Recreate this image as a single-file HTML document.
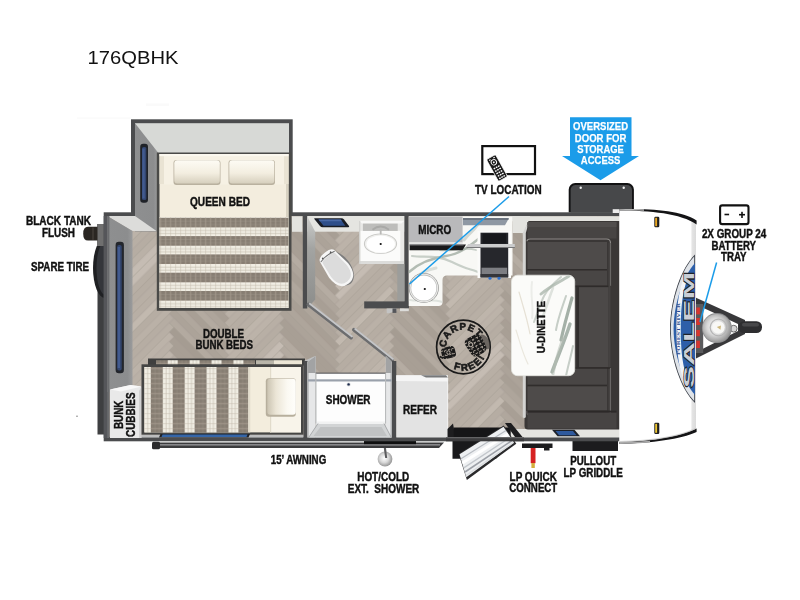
<!DOCTYPE html>
<html>
<head>
<meta charset="utf-8">
<title>176QBHK</title>
<style>
html,body{margin:0;padding:0;background:#fff;}
body{width:800px;height:600px;overflow:hidden;font-family:"Liberation Sans",sans-serif;}
svg{display:block;}
.lbl{font-family:"Liberation Sans",sans-serif;font-weight:bold;font-size:12px;fill:#111;text-anchor:middle;stroke:#111;stroke-width:.42px;}
</style>
</head>
<body>
<svg width="800" height="600" viewBox="0 0 800 600">
<defs>
  <!-- herringbone wood floor -->
  <pattern id="wood" width="156" height="156" patternUnits="userSpaceOnUse" patternTransform="translate(174,300) rotate(45)">
<rect width="156" height="156" fill="#b3aaa0"/>
<g stroke="#9d948a" stroke-width=".35" stroke-opacity=".55">
<rect x="0" y="6.5" width="6.5" height="78" fill="#bab1a7"/>
<rect x="0" y="0" width="78" height="6.5" fill="#b0a79d"/>
<rect x="78" y="-71.5" width="6.5" height="78" fill="#bcb3a9"/>
<rect x="-71.5" y="84.5" width="78" height="6.5" fill="#aca399"/>
<rect x="6.5" y="13" width="6.5" height="78" fill="#b6ada3"/>
<rect x="6.5" y="6.5" width="78" height="6.5" fill="#aca399"/>
<rect x="84.5" y="-65" width="6.5" height="78" fill="#b8afa5"/>
<rect x="-65" y="91" width="78" height="6.5" fill="#a89f95"/>
<rect x="13" y="19.5" width="6.5" height="78" fill="#b8afa5"/>
<rect x="13" y="13" width="78" height="6.5" fill="#b3aaa0"/>
<rect x="91" y="-58.5" width="6.5" height="78" fill="#b6ada3"/>
<rect x="-58.5" y="97.5" width="78" height="6.5" fill="#a89f95"/>
<rect x="19.5" y="26" width="6.5" height="78" fill="#bcb3a9"/>
<rect x="19.5" y="19.5" width="78" height="6.5" fill="#a59c92"/>
<rect x="97.5" y="-52" width="6.5" height="78" fill="#bab1a7"/>
<rect x="-52" y="104" width="78" height="6.5" fill="#b3aaa0"/>
<rect x="26" y="32.5" width="6.5" height="78" fill="#bab1a7"/>
<rect x="26" y="26" width="78" height="6.5" fill="#a89f95"/>
<rect x="104" y="-45.5" width="6.5" height="78" fill="#c5bcb3"/>
<rect x="-45.5" y="110.5" width="78" height="6.5" fill="#b3aaa0"/>
<rect x="32.5" y="39" width="6.5" height="78" fill="#beb5ab"/>
<rect x="32.5" y="32.5" width="78" height="6.5" fill="#a89f95"/>
<rect x="110.5" y="-39" width="6.5" height="78" fill="#c5bcb3"/>
<rect x="-39" y="117" width="78" height="6.5" fill="#a89f95"/>
<rect x="39" y="45.5" width="6.5" height="78" fill="#c2b9af"/>
<rect x="39" y="39" width="78" height="6.5" fill="#b5aca2"/>
<rect x="117" y="-32.5" width="6.5" height="78" fill="#b8afa5"/>
<rect x="-32.5" y="123.5" width="78" height="6.5" fill="#aca399"/>
<rect x="45.5" y="52" width="6.5" height="78" fill="#bab1a7"/>
<rect x="45.5" y="45.5" width="78" height="6.5" fill="#aea59b"/>
<rect x="123.5" y="-26" width="6.5" height="78" fill="#b6ada3"/>
<rect x="-26" y="130" width="78" height="6.5" fill="#a89f95"/>
<rect x="52" y="58.5" width="6.5" height="78" fill="#b8afa5"/>
<rect x="52" y="52" width="78" height="6.5" fill="#a89f95"/>
<rect x="130" y="-19.5" width="6.5" height="78" fill="#b8afa5"/>
<rect x="-19.5" y="136.5" width="78" height="6.5" fill="#aea59b"/>
<rect x="58.5" y="65" width="6.5" height="78" fill="#b6ada3"/>
<rect x="58.5" y="58.5" width="78" height="6.5" fill="#b0a79d"/>
<rect x="136.5" y="-13" width="6.5" height="78" fill="#b8afa5"/>
<rect x="-13" y="143" width="78" height="6.5" fill="#b3aaa0"/>
<rect x="65" y="71.5" width="6.5" height="78" fill="#b8afa5"/>
<rect x="65" y="65" width="78" height="6.5" fill="#aea59b"/>
<rect x="143" y="-6.5" width="6.5" height="78" fill="#c2b9af"/>
<rect x="-6.5" y="149.5" width="78" height="6.5" fill="#a89f95"/>
<rect x="71.5" y="78" width="6.5" height="78" fill="#beb5ab"/>
<rect x="71.5" y="71.5" width="78" height="6.5" fill="#a89f95"/>
<rect x="149.5" y="0" width="6.5" height="78" fill="#b6ada3"/>
<rect x="78" y="84.5" width="6.5" height="78" fill="#bcb3a9"/>
<rect x="78" y="78" width="78" height="6.5" fill="#aea59b"/>
<rect x="84.5" y="91" width="6.5" height="78" fill="#b8afa5"/>
<rect x="84.5" y="84.5" width="78" height="6.5" fill="#aca399"/>
<rect x="91" y="97.5" width="6.5" height="78" fill="#b6ada3"/>
<rect x="91" y="91" width="78" height="6.5" fill="#a89f95"/>
<rect x="97.5" y="104" width="6.5" height="78" fill="#bab1a7"/>
<rect x="97.5" y="97.5" width="78" height="6.5" fill="#a89f95"/>
<rect x="104" y="110.5" width="6.5" height="78" fill="#c5bcb3"/>
<rect x="104" y="104" width="78" height="6.5" fill="#b3aaa0"/>
<rect x="110.5" y="117" width="6.5" height="78" fill="#c5bcb3"/>
<rect x="110.5" y="110.5" width="78" height="6.5" fill="#b3aaa0"/>
<rect x="117" y="123.5" width="6.5" height="78" fill="#b8afa5"/>
<rect x="117" y="117" width="78" height="6.5" fill="#a89f95"/>
<rect x="123.5" y="130" width="6.5" height="78" fill="#b6ada3"/>
<rect x="123.5" y="123.5" width="78" height="6.5" fill="#aca399"/>
<rect x="130" y="136.5" width="6.5" height="78" fill="#b8afa5"/>
<rect x="130" y="130" width="78" height="6.5" fill="#a89f95"/>
<rect x="136.5" y="143" width="6.5" height="78" fill="#b8afa5"/>
<rect x="136.5" y="136.5" width="78" height="6.5" fill="#aea59b"/>
<rect x="143" y="149.5" width="6.5" height="78" fill="#c2b9af"/>
<rect x="143" y="143" width="78" height="6.5" fill="#b3aaa0"/>
<rect x="149.5" y="149.5" width="78" height="6.5" fill="#a89f95"/>
</g>
</pattern>
  <!-- queen blanket: horizontal stripes -->
  <pattern id="qblanket" width="5" height="18.300" patternUnits="userSpaceOnUse" patternTransform="translate(160,217.800)">
    <rect width="5" height="18.300" fill="#f1eee4"/>
    <rect width="5" height="9.600" fill="#8b8176"/>
    <rect x="0" y="0" width="1.200" height="9.600" fill="#a39a8e" opacity=".55"/>
    <rect x="2.500" y="0" width="1" height="9.600" fill="#776e63" opacity=".35"/>
    <rect x="0" y="9.600" width="1.200" height="8.700" fill="#cfc8b9" opacity=".55"/>
    <rect x="0" y="12.200" width="5" height="1.100" fill="#c2baab" opacity=".6"/>
    <rect x="0" y="15.200" width="5" height="1.100" fill="#c2baab" opacity=".6"/>
    <rect x="0" y="3" width="5" height=".8" fill="#a39a8e" opacity=".4"/>
    <rect x="0" y="6.300" width="5" height=".8" fill="#a39a8e" opacity=".4"/>
  </pattern>
  <!-- bunk blanket: vertical stripes -->
  <pattern id="bblanket" width="21.900" height="5" patternUnits="userSpaceOnUse" patternTransform="translate(150.800,368)">
    <rect width="21.900" height="5" fill="#f1eee4"/>
    <rect width="12" height="5" fill="#8b8176"/>
    <rect x="0" y="0" width="12" height="1.200" fill="#a39a8e" opacity=".55"/>
    <rect x="0" y="2.500" width="12" height="1" fill="#776e63" opacity=".35"/>
    <rect x="12" y="0" width="9.900" height="1.200" fill="#cfc8b9" opacity=".55"/>
    <rect x="14.800" y="0" width="1.100" height="5" fill="#c2baab" opacity=".6"/>
    <rect x="18.200" y="0" width="1.100" height="5" fill="#c2baab" opacity=".6"/>
    <rect x="3.800" y="0" width=".8" height="5" fill="#a39a8e" opacity=".4"/>
    <rect x="7.800" y="0" width=".8" height="5" fill="#a39a8e" opacity=".4"/>
  </pattern>
  <linearGradient id="pillow" x1="0" y1="0" x2="0" y2="1">
    <stop offset="0" stop-color="#fdfbf4"/><stop offset=".55" stop-color="#f3eee0"/><stop offset="1" stop-color="#d6cfbd"/>
  </linearGradient>
  <linearGradient id="pillowH" x1="0" y1="0" x2="1" y2="0">
    <stop offset="0" stop-color="#cbc4b2"/><stop offset=".3" stop-color="#ebe5d6"/><stop offset=".7" stop-color="#fbf9f2"/><stop offset="1" stop-color="#fffefb"/>
  </linearGradient>
  <linearGradient id="wallface" x1="0" y1="0" x2="1" y2="0">
    <stop offset="0" stop-color="#8e8f90"/><stop offset=".8" stop-color="#8c8d8e"/><stop offset="1" stop-color="#9a9b9c"/>
  </linearGradient>
  <linearGradient id="marble" x1="0" y1="0" x2="1" y2="1">
    <stop offset="0" stop-color="#f7f7f4"/><stop offset=".45" stop-color="#e3e7e0"/><stop offset=".55" stop-color="#f6f6f3"/><stop offset="1" stop-color="#e9ece6"/>
  </linearGradient>
  <linearGradient id="capedge" x1="0" y1="0" x2="1" y2="0">
    <stop offset="0" stop-color="#ffffff"/><stop offset=".93" stop-color="#ffffff"/><stop offset=".95" stop-color="#e4e4e4"/><stop offset="1" stop-color="#dadada"/>
  </linearGradient>
  <radialGradient id="tank" cx=".45" cy=".45" r=".6">
    <stop offset="0" stop-color="#ffffff"/><stop offset=".5" stop-color="#d8d8d8"/><stop offset="1" stop-color="#8a8a8a"/>
  </radialGradient>
  <linearGradient id="steel" x1="0" y1="0" x2="1" y2="0">
    <stop offset="0" stop-color="#9a9a9a"/><stop offset=".3" stop-color="#f2f2f2"/><stop offset=".6" stop-color="#c9c9c9"/><stop offset="1" stop-color="#efefef"/>
  </linearGradient>
  <filter id="soft" x="-10%" y="-10%" width="120%" height="120%"><feGaussianBlur stdDeviation=".7"/></filter>
  <linearGradient id="faceV" x1="0" y1="0" x2="0" y2="1"><stop offset="0" stop-color="#cdcecc"/><stop offset=".35" stop-color="#a3a4a2"/><stop offset="1" stop-color="#8c8d8b"/></linearGradient>
</defs>

<rect width="800" height="600" fill="#ffffff"/>

<rect x="146" y="103.500" width="23" height="2.500" fill="#fafafa"/>
<rect x="77" y="117.600" width="54" height="1" fill="#f8f8f8"/>
<!-- TITLE -->
<text opacity=".999" x="87.500" y="63.600" font-family="Liberation Sans, sans-serif" font-size="18.700" fill="#111" textLength="91" lengthAdjust="spacingAndGlyphs">176QBHK</text>

<!-- SECTIONS-BEGIN -->

<!-- ===== EXTERIOR ITEMS BEHIND BODY ===== -->
<g id="exterior">
  <!-- rear bumper strip -->
  <rect x="97.500" y="240" width="7" height="194.500" fill="#3e3f41"/>
  <!-- spare tire -->
  <ellipse cx="105" cy="268" rx="12" ry="30" fill="#1f2023"/>
  <ellipse cx="105.500" cy="268" rx="9" ry="27" fill="#34363b"/>
  <!-- black tank flush -->
  <rect x="97" y="224" width="8" height="22" fill="#6f6f6f"/>
  <path d="M97.500,226.800 H88 Q83.200,226.800 83.200,233.700 Q83.200,240.600 88,240.600 H97.500 Z" fill="#2a2622"/>
  <rect x="92" y="227.500" width="2" height="12.400" fill="#3b3631"/>
  <!-- storage door -->
  <path d="M568.700,212.500 V189.500 a6.500,6.500 0 0 1 6.500,-6.500 h52.200 a6.500,6.500 0 0 1 6.500,6.500 V212.500 Z" fill="#121213"/>
  <path d="M570.600,212.500 V190 a5,5 0 0 1 5,-5 h51.400 a5,5 0 0 1 5,5 V212.500 Z" fill="#47484a"/>
  <circle cx="580.700" cy="187.700" r="1.200" fill="#f0f0f0"/>
  <circle cx="623.700" cy="187.700" r="1.200" fill="#f0f0f0"/>
  <!-- awning bar -->
  <polygon points="156,442.600 444,442.600 439,448 156,448" fill="#3b3b3d"/>
  <rect x="158" y="444.200" width="282" height="1.300" fill="#9a9a9c"/>
  <rect x="152" y="441.800" width="8" height="7.400" rx="1.500" fill="#2a2a2c"/>
  <rect x="364" y="441" width="52" height="3.200" fill="#0f0f10"/>
  <!-- pullout griddle -->
  <rect x="572.500" y="439" width="45.500" height="12" fill="#1c1c1e"/>
  <!-- LP quick connect -->
  <path d="M522,443.500 h30.500 v4.500 h-3 v2.500 h-5.500 v-2.500 h-22 z" fill="#1c1c1e"/>
  <rect x="530.700" y="448" width="4.800" height="15.200" fill="#d62222"/>
  <rect x="531.400" y="463" width="3.400" height="5" fill="#d4ae3c"/>
  <!-- ext shower -->
  <circle cx="385" cy="459" r="7.400" fill="url(#tank)"/>
  <polygon points="383.800,448 386,448 387.200,458 385.200,458" fill="#5c5c5e"/>
</g>

<!-- ===== MAIN BODY ===== -->
<g id="body">
  <!-- outer shell -->
  <rect x="103.700" y="212.300" width="516" height="229" fill="#4b4c4e"/>
  <!-- floor -->
  <rect x="107.500" y="216" width="512" height="221" fill="url(#wood)"/>
  <!-- bottom interior ledge (light) right portion -->
  <rect x="447" y="429" width="173" height="8.500" fill="#e4e4e0"/>
  <!-- top ledge strips -->
  <rect x="292" y="216.300" width="10.500" height="15.500" fill="#e3e3df"/>
  <rect x="512" y="216.300" width="108" height="5" fill="#e3e3df"/>
</g>

<!-- ===== SLIDE OUT ===== -->
<g id="slide">
  <rect x="131" y="119.300" width="161.700" height="96" fill="#4b4c4e"/>
  <rect x="135" y="123.200" width="154" height="92" fill="#d7d9d6"/>
  <!-- left wall face of slide (3D) -->
  <polygon points="135,123.200 158,152.500 158,231.500 135,231.500" fill="url(#wallface)"/>
  <!-- slide window -->
  <rect x="140.200" y="143.800" width="7.800" height="59" rx="3" fill="#1f2228"/>
  <rect x="142" y="147" width="4.300" height="53" rx="1.500" fill="#33466f"/>
  <rect x="142.300" y="148.500" width="2.400" height="50" fill="#425b90"/>
</g>

<!-- ===== REAR WALL FACE (3D) ===== -->
<g id="rearwall">
  <rect x="103.700" y="216" width="5.600" height="222" fill="#55565a"/>
  <polygon points="107.200,216 135,216 156.500,231 132.500,231" fill="#dcdcda"/>
  <polygon points="107.200,216 132.500,231 132.500,388 109.300,392 107.200,392" fill="url(#wallface)"/>
  <rect x="107.200" y="216" width="2.200" height="222" fill="#6a6b6e"/>
  <!-- rear window -->
  <rect x="115.600" y="241.700" width="8.300" height="131.500" rx="3.200" fill="#23262c"/>
  <rect x="117.200" y="245" width="4.500" height="125.500" rx="1.800" fill="#33466f"/>
  <rect x="117.600" y="247" width="2.400" height="121" fill="#425b90"/>
  <!-- bunk cubbies -->
  <polygon points="110,389.500 130.500,385 141.500,386.500 141.500,438 110,438" fill="#e9e9e9"/>
  <polygon points="110,389.500 130.500,385 141.500,386.500 121,391.500" fill="#f8f8f8"/>
  <polygon points="139,391 141.500,386.500 141.500,438 139,438" fill="#d2d2d2"/>
</g>

<!-- ===== QUEEN BED ===== -->
<g id="queen">
  <rect x="156.800" y="152.500" width="134.700" height="158.300" fill="#4a4a48"/>
  <rect x="159.500" y="154" width="129" height="154" fill="#f3edde"/>
  <rect x="286" y="154" width="2.500" height="154" fill="#d8d2c2"/>
  <!-- head area -->
  <rect x="159.500" y="154" width="129" height="30" fill="#e9e3d3"/>
  <rect x="164" y="155.500" width="120" height="29" fill="#f6f1e4"/>
  <rect x="159.500" y="154" width="129" height="2.200" fill="#fbf8ef"/>
  <rect x="159.500" y="217" width="128.800" height="91" fill="url(#qblanket)"/>
  <!-- pillows -->
  <rect x="173.500" y="160" width="47" height="25" rx="3" fill="#b9b19f"/>
  <rect x="174.300" y="160.300" width="45.500" height="23.200" rx="3" fill="url(#pillow)"/>
  <rect x="228.500" y="160" width="46.500" height="25" rx="3" fill="#b9b19f"/>
  <rect x="229.300" y="160.300" width="45" height="23.200" rx="3" fill="url(#pillow)"/>
</g>

<!-- ===== BUNK ===== -->
<g id="bunk">
  <!-- upper rail -->
  <rect x="148" y="358.500" width="157" height="7" fill="#3f3f3e"/>
  <rect x="151" y="360.200" width="99" height="4.600" fill="url(#bblanket)" transform="translate(5,0)"/>
  <rect x="256" y="360.200" width="18" height="4.600" fill="#b9b5a9"/>
  <rect x="274" y="360.200" width="28" height="4.600" fill="#ece6d6"/>
  <polygon points="304,361 314.500,356.300 314.500,362 307.400,366.500 304,366.500" fill="#bfc0c1"/>
  <!-- frame -->
  <rect x="141.500" y="364.300" width="162" height="70.500" fill="#454544"/>
  <rect x="144.300" y="367" width="156.700" height="65.400" fill="#f3eddd"/>
  <rect x="144.300" y="367" width="104" height="65.400" fill="url(#bblanket)"/>
  <rect x="248.300" y="367" width="2" height="65.400" fill="#e3ddcd"/>
  <rect x="270" y="367" width="31" height="65.400" fill="#f8f4ea"/>
  <rect x="270" y="367" width="1.200" height="65.400" fill="#e1dbcb"/>
  <rect x="265.800" y="378.300" width="30" height="38.500" rx="3" fill="#b7af9d"/>
  <rect x="267.300" y="378.800" width="28.500" height="36" rx="3" fill="url(#pillowH)"/>
  <!-- window under bunk at bottom wall -->
  <rect x="141.500" y="434.800" width="162" height="2.800" fill="#bdbebf"/>
  <polygon points="160.500,434 250,434 248.500,437.500 159,437.500" fill="#1f2228"/>
  <polygon points="162.500,434.600 247.500,434.600 246.500,437 161.500,437" fill="#3566a8"/>
</g>


<!-- ===== BATHROOM ===== -->
<g id="bath">
  <!-- top strip -->
  <rect x="307" y="216" width="98" height="15.700" fill="#e5e5e1"/>
  <!-- bath left wall -->
  <rect x="302.800" y="215.500" width="4.400" height="93" fill="#4b4c4e"/>
  <polygon points="307.200,216.200 315.200,231.800 315.200,299.600 307.200,308.400" fill="url(#faceV)"/>
  <!-- roof vent / blue -->
  <path d="M314.300,218.200 H341.500 Q343,218.200 344,219.400 L349,226 Q349.800,227.200 348,227.200 H322.500 Q321,227.200 320,226 L314.300,219 Z" fill="#1a1d24"/>
  <polygon points="318.500,219.500 340.800,219.500 345.300,225.800 323.500,225.800" fill="#2f4f8a"/>
  <polygon points="318.500,219.500 340.800,219.500 342,221.200 319.800,221.200" fill="#4a6aa6"/>
  <!-- vanity -->
  <rect x="359.200" y="220.800" width="45.200" height="43.200" fill="#e9e9e7"/>
  <polygon points="359.200,220.800 404.400,220.800 401.500,223.600 362,223.600" fill="#f8f8f7"/>
  <rect x="360.300" y="230.800" width="40" height="30.200" fill="#fbfbfa"/>
  <rect x="362.900" y="223.600" width="34.800" height="7.300" fill="#bdbdbb"/>
  <rect x="359.200" y="261" width="45.200" height="3" fill="#dcdcda"/>
  <rect x="359.200" y="220.800" width="1.100" height="43.200" fill="#cfcfcd"/>
  <ellipse cx="380.500" cy="243.700" rx="16.600" ry="10.300" fill="#c9c9c6"/>
  <ellipse cx="380.500" cy="243.700" rx="15.600" ry="9.500" fill="#efefed"/>
  <ellipse cx="380.700" cy="244.200" rx="14.200" ry="8.600" fill="#ffffff"/>
  <circle cx="380.700" cy="244" r="1.100" fill="#111"/>
  <path d="M372.500,229.700 q8,-6.500 16.500,0" fill="none" stroke="#a9a9a7" stroke-width="1.800"/>
  <rect x="379.800" y="229" width="1.800" height="5.500" fill="#b9b9b7"/>
  <!-- toilet -->
  <g transform="translate(336.700,268.100) rotate(-38)">
    <ellipse cx="1.300" cy="1.200" rx="12.200" ry="19.600" fill="#7d7d7d"/>
    <path d="M-9.500,-14 Q-9.500,-19.500 0,-19.500 Q9.500,-19.500 9.500,-14 L12,3 Q12,19.500 0,19.500 Q-12,19.500 -12,3 Z" fill="#f6f6f6"/>
    <path d="M-8,-12.500 Q-8,-14.800 0,-14.800 Q8,-14.800 8,-12.500 L9.800,3.500 Q9.800,17 0,17 Q-9.800,17 -9.800,3.500 Z" fill="#dcdcdc"/>
    <path d="M-8.800,-14.600 Q0,-17.200 8.800,-14.600" fill="none" stroke="#6d6d6d" stroke-width="1"/>
    <circle cx="-5" cy="-16.200" r=".9" fill="#555"/><circle cx="5" cy="-16.200" r=".9" fill="#555"/>
  </g>
  <!-- wall between bath and kitchen -->
  <rect x="404.400" y="215.500" width="4.400" height="93" fill="#4b4c4e"/>
  <rect x="397.300" y="264" width="7.200" height="37.500" fill="#9c9d9b"/>
  <rect x="364.200" y="301.400" width="44.600" height="7" fill="#4b4c4e"/>
  <polygon points="386.700,308.400 396.400,308.400 396.400,311 389,313.300 386.700,313.300" fill="#c3c3c3"/>
  <rect x="392.500" y="308.400" width="3.900" height="4.500" fill="#55565a"/>
  <rect x="400" y="308.400" width="8.800" height="2.800" fill="#dcdcda"/>
  <!-- doors -->
  <g stroke-linecap="round">
    <line x1="308.500" y1="304.500" x2="351" y2="337.500" stroke="#6c6d6f" stroke-width="4"/>
    <line x1="309.800" y1="303.800" x2="352" y2="336.500" stroke="#c5c6c8" stroke-width="1.800"/>
    <line x1="354" y1="329.800" x2="392" y2="360" stroke="#6c6d6f" stroke-width="4"/>
    <line x1="355.200" y1="329" x2="393" y2="359" stroke="#c5c6c8" stroke-width="1.800"/>
  </g>
</g>

<!-- ===== SHOWER ===== -->
<g id="shower">
  <!-- posts -->
  <rect x="303.600" y="361" width="4" height="77" fill="#4b4c4e"/>
  <polygon points="307.400,362 315.600,356 315.600,437.500 307.400,437.500" fill="#e6e7e8"/>
  <polygon points="307.400,362 315.600,356 315.600,373 307.400,373" fill="#a2a3a4"/>
  <rect x="391.800" y="361" width="4.500" height="77" fill="#4b4c4e"/>
  <polygon points="385.800,356 391.800,362 391.800,437.500 385.800,437.500" fill="#e6e7e8"/>
  <polygon points="385.800,356 391.800,362 391.800,373 385.800,373" fill="#a2a3a4"/>
  <rect x="307.400" y="373" width="1.200" height="64.500" fill="#a9abad"/>
  <rect x="390.600" y="373" width="1.200" height="64.500" fill="#a9abad"/>
  <!-- pan -->
  <rect x="315.600" y="373" width="70.200" height="64.500" fill="#dfe0e1"/>
  <rect x="316.400" y="373.500" width="68.600" height="49" fill="#fdfdfd"/>
  <polygon points="309,437.500 318,423.500 384,423.500 391,437.500" fill="#d2d4d5"/>
  <polygon points="313.500,436 320.500,427 381.500,427 387,436" fill="#c0c2c3"/>
  <polygon points="316.400,421.500 385,421.500 385,424 316.400,424" fill="#f1f2f2"/>
  <path d="M309,437 L318,423.500 M391,437 L384,423.500" stroke="#a9abad" stroke-width="1" fill="none"/>
  <rect x="308" y="379.300" width="83.500" height="2.200" fill="#9aa1ab"/>
  <rect x="315.600" y="372.600" width="70.200" height="1.100" fill="#5a5b5d"/>
  <rect x="315.300" y="373.500" width="1.100" height="50" fill="#b9bbbc"/>
  <rect x="385" y="373.500" width="1.100" height="50" fill="#b9bbbc"/>
  <circle cx="348.600" cy="384.400" r="2" fill="#d5d8dc"/>
  <circle cx="348.600" cy="384.400" r="1.200" fill="#1d2a4a"/>
</g>

<!-- ===== REFER ===== -->
<g id="refer">
  <rect x="396.300" y="375.300" width="51.500" height="62.200" fill="#e3e3e3"/>
  <polygon points="396.300,375.300 447.800,375.300 447.800,381.500 396.300,381" fill="#f5f5f5"/>
  <polygon points="421,375.300 446,375.300 447.800,377.600 426,377.400" fill="#77787a"/>
  <rect x="447.200" y="378" width="1" height="59" fill="#f4f4f4"/>
</g>

<!-- ===== KITCHEN ===== -->
<g id="kitchen">
  <!-- counter marble (L) -->
  <path id="ctr" d="M408.700,216.300 H512.500 V275.600 H447 q-4.500,0 -4.500,4.500 V302 q0,4 -4,4 H408.700 Z" fill="#f8f8f5"/>
  <clipPath id="ctrclip"><path d="M408.700,216.300 H512.500 V275.600 H447 q-4.500,0 -4.500,4.500 V302 q0,4 -4,4 H408.700 Z"/></clipPath>
  <g clip-path="url(#ctrclip)" fill="none" stroke-linecap="round" filter="url(#soft)">
    <path d="M409,272 C420,262 432,258 446,256 S470,246 482,236" stroke="#95a397" stroke-width="2.400" opacity=".7"/>
    <path d="M412,256 C424,258 436,254 452,262 S468,268 478,272" stroke="#b4beb5" stroke-width="2.200" opacity=".7"/>
    <path d="M440,250 C452,252 464,246 476,250" stroke="#a3afa5" stroke-width="1.800" opacity=".6"/>
    <path d="M410,284 C416,276 424,270 436,268" stroke="#c1c9c2" stroke-width="3" opacity=".55"/>
    <path d="M464,240 C470,232 478,228 480,220" stroke="#b9c2ba" stroke-width="3" opacity=".6"/>
    <path d="M410,300 C420,302 432,298 442,302" stroke="#cfd5cf" stroke-width="2" opacity=".6"/>
  </g>
  <!-- micro -->
  <rect x="409" y="216.500" width="53.600" height="26" fill="#b9b9bb"/>
  <rect x="409" y="242.300" width="53.600" height="1.800" fill="#e3e3e3"/>
  <polygon points="409.600,244.600 466,244.600 462.500,250.200 409.600,250.200" fill="#19191b"/>
  <rect x="409.600" y="244.200" width="54" height="1.200" fill="#8d8d8f"/>
  <!-- range hood / grey top -->
  <polygon points="463,218 509,218 505,225.300 463,225.300" fill="#8f98a3"/>
  <rect x="463" y="218" width="45.500" height="2" fill="#6d7580"/>
  <!-- stove -->
  <rect x="477.500" y="231" width="33.500" height="47" fill="#fbfbfa"/>
  <rect x="480.500" y="232.700" width="27.700" height="44.700" fill="#26272c"/>
  <rect x="482.500" y="233.500" width="23.700" height="10" fill="#17181c"/>
  <rect x="481.500" y="267.700" width="25.700" height="6.300" fill="#7d7e83"/>
  <rect x="480.500" y="274" width="27.700" height="3.400" fill="#34353a"/>
  <circle cx="490" cy="278.300" r="1.500" fill="#2a6fd0"/>
  <circle cx="499" cy="278.300" r="1.500" fill="#2a6fd0"/>
  <!-- overhead cabinet edge -->
  <polygon points="468,244 514.800,244 514.800,247 466.500,247" fill="#cbcccd"/>
  <polygon points="466.500,247 514.800,247 514.800,248 466.500,248" fill="#77787a"/>
  <!-- round sink -->
  <circle cx="423.800" cy="288" r="15" fill="#8a8b8a"/>
  <circle cx="423.800" cy="288" r="14.400" fill="#e9e9e7"/>
  <circle cx="423.800" cy="288" r="13.200" fill="#b5b6b5"/>
  <circle cx="423.800" cy="288" r="12.600" fill="#ffffff"/>
  <circle cx="424.800" cy="289" r="1.100" fill="#111"/>
</g>

<!-- ===== DINETTE ===== -->
<g id="dinette">
  <polygon points="512.500,216 530,216 530,222 524.500,233 512.500,233" fill="#e3e3df"/>
  <path d="M528.500,221 H619.500 V429.500 H528 Q524.500,429.500 524.500,426 V231.500 Z" fill="#3a3736"/>
  <!-- left thin light edge -->
  <polygon points="522.800,233 526.800,224.500 528.300,224.500 525.800,233 525.800,276 522.800,276" fill="#d4d4d2"/>
  <rect x="522.800" y="374" width="3" height="44" rx="1.500" fill="#d4d4d2"/>
  <!-- top bench -->
  <rect x="527.500" y="222" width="89" height="16.500" fill="#474443"/>
  <rect x="527.500" y="222" width="89" height="5" fill="#514e4d"/>
  <path d="M527,241.200 q0,-2.200 3,-2.200 H606.500 q4,0 4,4 V286" fill="none" stroke="#8f8c8a" stroke-width="1.100"/>
  <rect x="527.500" y="242" width="79.500" height="27" fill="#4e4b4a"/>
  <rect x="527.500" y="269" width="79.500" height="1.600" fill="#302d2c"/>
  <rect x="527.500" y="270.600" width="79.500" height="15" fill="#494645"/>
  <!-- right bench -->
  <rect x="574.500" y="285.600" width="36" height="1.600" fill="#2e2b2a"/>
  <rect x="579" y="287.200" width="29.500" height="80" fill="#4c4948"/>
  <rect x="576.500" y="287.200" width="2.500" height="80" fill="#312e2d"/>
  <rect x="608.500" y="243" width="2" height="172" fill="#454241"/>
  <rect x="574.500" y="367.200" width="36" height="1.600" fill="#2e2b2a"/>
  <!-- bottom bench -->
  <rect x="527.500" y="368.800" width="79.500" height="16" fill="#494645"/>
  <rect x="527.500" y="384.800" width="79.500" height="1.600" fill="#302d2c"/>
  <rect x="527.500" y="386.400" width="79.500" height="24" fill="#4e4b4a"/>
  <path d="M527,411 V413 q0,2.200 3,2.200 H606.500 q4,0 4,-4 V368" fill="none" stroke="#6a6766" stroke-width="1.100"/>
  <rect x="527.500" y="412.500" width="89" height="16" fill="#474443"/>
  <rect x="527.500" y="410.600" width="89" height="1.900" fill="#2c2928"/>
  <!-- table -->
  <rect x="511.500" y="275.200" width="63.200" height="100.500" rx="6" fill="#fbfbf9"/>
  <clipPath id="tblclip"><rect x="511.500" y="275.200" width="63.200" height="100.500" rx="6"/></clipPath>
  <g clip-path="url(#tblclip)" fill="none" stroke-linecap="round" filter="url(#soft)">
    <path d="M569,276 C560,282 550,286 541,294" stroke="#93a194" stroke-width="3" opacity=".6"/>
    <path d="M561,277 C554,283 548,288 544,296 S538,312 534,322" stroke="#aab5ab" stroke-width="2" opacity=".6"/>
    <path d="M572,298 C568,312 565,322 561,340" stroke="#7f9083" stroke-width="3.200" opacity=".7"/>
    <path d="M566,296 C562,308 558,318 556,330" stroke="#a3afa5" stroke-width="2" opacity=".6"/>
    <path d="M570,324 C565,340 558,356 552,372" stroke="#84958a" stroke-width="3.400" opacity=".7"/>
    <path d="M563,338 C559,350 555,362 553,374" stroke="#b4beb5" stroke-width="3" opacity=".55"/>
    <path d="M573,346 C571,356 568,366 566,376" stroke="#a3afa5" stroke-width="2" opacity=".6"/>
    <path d="M553,288 C549,298 547,306 543,316" stroke="#c1c9c2" stroke-width="2.500" opacity=".5"/>
    <path d="M519,292 C523,306 527,318 530,334" stroke="#ddd6c6" stroke-width="1.200" opacity=".7"/>
    <path d="M516,330 C520,342 522,352 528,364" stroke="#e0dacb" stroke-width="1.200" opacity=".6"/>
    <path d="M532,282 C530,296 534,306 532,318" stroke="#e2e4df" stroke-width="2" opacity=".6"/>
  </g>
  <rect x="511.500" y="275.200" width="63.200" height="100.500" rx="6" fill="none" stroke="#e3e4e0" stroke-width=".8"/>
  <!-- window in bottom ledge -->
  <polygon points="552,429.800 574.500,429.800 580,436.300 557.500,436.300" fill="#1d2128"/>
  <polygon points="555.500,431 573,431 576.500,435.200 559,435.200" fill="#2f5a9e"/>
</g>

<!-- ===== ENTRY DOOR / STEP ===== -->
<g id="entry">
  <!-- step well -->
  <polygon points="447.500,429 453,423.500 455.500,437.500 447.500,437.500" fill="#1d1d1f"/>
  <rect x="453.700" y="427.500" width="57" height="10" fill="#151517"/>
  <polygon points="505,423 511,423 522.500,437 515,437" fill="#1d1d1f"/>
  <!-- step housing under wall -->
  <polygon points="452.500,441 502.500,441 502.500,452 496,458.700 452.500,458.700" fill="#19191b"/>
  <!-- door -->
  <polygon points="458.700,453.700 503.700,425.600 516.300,443.700 466.900,480" fill="#2a2a2c"/>
  <polygon points="459.500,454.300 503.500,426.800 514,442.600 466.300,477.200" fill="#eef0f2"/>
  <g stroke-linecap="butt" fill="none">
    <line x1="461" y1="458.800" x2="506" y2="430.500" stroke="#b8bcc2" stroke-width="1.200"/>
    <line x1="462.300" y1="463" x2="508" y2="434" stroke="#ffffff" stroke-width="3.200"/>
    <line x1="463.800" y1="467.800" x2="510" y2="437.500" stroke="#c3c7cc" stroke-width="1.400"/>
    <line x1="465" y1="472" x2="512" y2="440.500" stroke="#9da1a8" stroke-width="1.600"/>
    <line x1="466" y1="475.500" x2="513.500" y2="442.500" stroke="#d9dcdf" stroke-width="1.400"/>
  </g>
  <!-- wall line over door -->
  <rect x="446" y="437.200" width="78" height="4.100" fill="#3c3c3e"/>
  <rect x="446" y="437.200" width="78" height="1" fill="#6b6b6d"/>
</g>

<!-- ===== HITCH / A-FRAME ===== -->
<g id="hitch">
  <polygon points="696,297.800 745,320 745,334 696,358.400 696,352.200 738,331 738,324 696,304.600" fill="#38383a"/>
  <rect x="738.700" y="321.200" width="23.300" height="11.800" rx="5.500" fill="#2e2e30"/>
  <rect x="742" y="323" width="17" height="3.500" rx="1.700" fill="#48484a"/>
  <rect x="696" y="304" width="7.200" height="49" fill="#5a5a5c"/>
  <!-- red lights -->
  <rect x="696.300" y="307.500" width="3.600" height="6.900" fill="#d8362f"/>
  <rect x="696.300" y="318" width="3.600" height="7" fill="#d8362f"/>
  <rect x="696.300" y="330" width="3.600" height="6.200" fill="#d8362f"/>
  <rect x="696.300" y="340.600" width="3.600" height="7.400" fill="#d8362f"/>
  <!-- tank -->
  <circle cx="733.700" cy="328.700" r="3.400" fill="#d5d5d5" stroke="#5d5d5d" stroke-width=".9"/>
  <circle cx="716.900" cy="328.100" r="15" fill="#8a8b8d"/>
  <circle cx="716.900" cy="328.100" r="14.200" fill="url(#tank)"/>
  <circle cx="718.500" cy="327.500" r="8.300" fill="none" stroke="#b5b5b5" stroke-width="1.200"/>
  <circle cx="718.500" cy="327.500" r="6.200" fill="#f8f8f6"/>
  <polygon points="716.800,327 721,325.500 720.500,329.800" fill="#cdb87f"/>
</g>

<!-- ===== FRONT CAP ===== -->
<g id="cap">
  <path d="M619.300,209.800 C650,209.600 680,212 696,222 V431 C680,438.500 652,442.500 619.300,443.300 Z" fill="url(#capedge)"/>
  <!-- top border: thin gray at left to thick black at right -->
  <path d="M619.300,209.200 C650,208.600 681,210.500 696.600,220.500 L696.600,224.500 C681,213.600 650,210.600 619.300,210.600 Z" fill="#141416"/>
  <path d="M619.300,209.200 C628,209 636,209 644,209.200 L644,210.800 C636,210.600 628,210.600 619.300,210.600 Z" fill="#b9b9b9"/>
  <!-- bottom border -->
  <path d="M619.300,443.900 C652,443.100 681,439 696.600,432 L696.600,428.600 C681,436.400 652,441.300 619.300,442.100 Z" fill="#141416"/>
  <path d="M619.300,443.900 C630,443.700 640,443.200 650,442.500 L650,440.700 C640,441.500 630,441.900 619.300,442.100 Z" fill="#a9a9a9"/>
  <path d="M619.300,441.600 C652,440.700 681,435.800 696,428.200" fill="none" stroke="#c9c9c9" stroke-width="1.200" opacity=".8"/>
  <rect x="612.700" y="209.200" width="6.500" height="3.800" fill="#ececec"/>
  <!-- marker lights -->
  <rect x="654.300" y="216.700" width="5" height="10.600" rx="1.200" fill="#1d1d1f"/>
  <rect x="655.200" y="217.800" width="1.900" height="8.400" fill="#e9a722"/>
  <rect x="654.300" y="422.700" width="5" height="11.300" rx="1.200" fill="#1d1d1f"/>
  <rect x="655.200" y="423.800" width="1.900" height="9" fill="#ecc530"/>
  <!-- logo badge -->
  <clipPath id="logoclip"><path d="M695,254.500 C681,268 670,300 670,329 C670,358 681,390 695,403 Z"/></clipPath>
  <g clip-path="url(#logoclip)">
    <path d="M695,254.500 C681,268 670,300 670,329 C670,358 681,390 695,403 Z" fill="#dfe3e8" stroke="#3c4048" stroke-width="1.600"/>
    <path d="M695,263 C684,275 673.600,303 673.600,329 C673.600,355 684,383 695,395 Z" fill="#2d5fa9"/>
    <path d="M682.500,281 C678,295 676.400,312 676.400,329 C676.400,346 678,363 682.500,377 L686,375 C681.700,361 680.800,346 680.800,329 C680.800,312 681.700,297 686,283 Z" fill="#f2f4f7"/>
    <text transform="translate(680.200,329) rotate(-90)" text-anchor="middle" font-family="Liberation Serif, serif" font-weight="bold" font-size="4.300" fill="#23498c" textLength="52" lengthAdjust="spacingAndGlyphs">FOREST RIVER</text>
    <text transform="translate(694.200,330) rotate(-90) scale(1,.6)" text-anchor="middle" font-family="Liberation Sans, sans-serif" font-weight="bold" font-size="24" fill="#c9ced6" stroke="#1f2228" stroke-width="1.900" paint-order="stroke" textLength="116" lengthAdjust="spacingAndGlyphs">SALEM</text>
  </g>
</g>

<!-- ===== CARPET FREE STAMP ===== -->
<g id="stamp" transform="translate(463.400,347)">
  <circle r="26.800" fill="none" stroke="#1a1a1a" stroke-width="1.700"/>
  <path id="arcTop" d="M-17.300,0 A17.300,17.300 0 0 1 17.300,0" fill="none"/>
  <path id="arcBot" d="M-23.600,0 A23.600,23.600 0 0 0 23.600,0" fill="none"/>
  <g opacity=".999" font-family="Liberation Sans, sans-serif" font-weight="bold" font-size="9.700" fill="#1a1a1a" stroke="#1a1a1a" stroke-width=".6">
    <text transform="rotate(-16.500)" letter-spacing=".900"><textPath href="#arcTop" startOffset="50%" text-anchor="middle">CARPET</textPath></text>
    <text transform="rotate(-21.500)" letter-spacing="1.700"><textPath href="#arcBot" startOffset="50%" text-anchor="middle">FREE!</textPath></text>
  </g>
  <!-- boot prints -->
  <g transform="translate(-15,5.300) rotate(-14)">
    <path d="M-7,-2 Q-7,-5.500 -2,-5.500 H4 Q7,-5.500 7,-1 V3 Q7,6 3,6 H-3 Q-7,6 -7,2 Z" fill="#1a1a1a"/>
    <g stroke="#b3aaa0" stroke-width=".8" fill="none">
      <path d="M-7,-2.600 H7 M-7,2.600 H7" stroke-dasharray="2.200 1.400"/>
      <path d="M-3.500,-6 V6 M3.500,-6 V6" stroke-dasharray="1.500 2.200"/>
    </g>
    <circle cx="0" cy=".2" r="2.100" fill="#b3aaa0"/>
    <circle cx="0" cy=".2" r="1.200" fill="#1a1a1a"/>
    <path d="M-9.500,2 L-6.500,4.500" stroke="#1a1a1a" stroke-width="1.800"/>
  </g>
  <g transform="translate(12.300,-1.500) rotate(-28)">
    <ellipse cx="9.500" cy="1" rx="4.500" ry="8" fill="#4b4744" opacity=".7"/>
    <path d="M-9,-5 Q-9,-10 -3,-10 H4 Q9,-10 9,-4 V4 Q9,10 3,10 H-3 Q-8,10 -8,5 Z" fill="#1a1a1a"/>
    <g stroke="#b3aaa0" stroke-width=".9" fill="none">
      <path d="M-9,-6.500 H9 M-9,-3 H9 M-9,.5 H9 M-9,4 H9 M-8,7.300 H8" stroke-dasharray="2.600 1.500"/>
      <path d="M-5,-10 V10 M0,-10 V10 M5,-10 V10" stroke-dasharray="1.300 2.300"/>
    </g>
    <circle cx="-4" cy="-3" r="2.500" fill="#b3aaa0"/>
    <circle cx="-4" cy="-3" r="1.400" fill="#1a1a1a"/>
  </g>
</g>

<!-- ===== CALLOUT ARROW ===== -->
<g id="callout">
  <polygon points="570,117.300 631.500,117.300 631.500,156 639,156 600.500,180.300 562,156 570,156" fill="#1b9ce9"/>
  <g opacity=".999" font-family="Liberation Sans, sans-serif" font-weight="bold" font-size="11.800" fill="#ffffff" stroke="#ffffff" stroke-width=".25" text-anchor="middle">
    <text x="600.600" y="130.200" textLength="55" lengthAdjust="spacingAndGlyphs">OVERSIZED</text>
    <text x="600.600" y="141.500" textLength="51.500" lengthAdjust="spacingAndGlyphs">DOOR FOR</text>
    <text x="600.600" y="152.800" textLength="46.500" lengthAdjust="spacingAndGlyphs">STORAGE</text>
    <text x="600.600" y="164.100" textLength="39.500" lengthAdjust="spacingAndGlyphs">ACCESS</text>
  </g>
</g>

<!-- ===== TV ICON ===== -->
<g id="tv">
  <rect x="482.300" y="146.100" width="52.700" height="28" fill="#fff" stroke="#111" stroke-width="2.200"/>
  <g transform="translate(497,168) rotate(-29)">
    <rect x="-5.200" y="-12.500" width="10.400" height="25" rx="1.600" fill="#1a1a1a" stroke="#fff" stroke-width=".7"/>
    <circle cx="0" cy="-6.500" r="2.700" fill="none" stroke="#fff" stroke-width=".9"/>
    <circle cx="0" cy="-6.500" r=".9" fill="#fff"/>
    <rect x="-3.200" y="-11" width="1.600" height="1.100" fill="#fff"/><rect x="1.600" y="-11" width="1.600" height="1.100" fill="#fff"/>
    <g fill="#fff"><rect x="-3.300" y="-1.500" width="1.700" height="1.400"/><rect x="-.85" y="-1.500" width="1.700" height="1.400"/><rect x="1.600" y="-1.500" width="1.700" height="1.400"/>
    <rect x="-3.300" y="1.300" width="1.700" height="1.400"/><rect x="-.85" y="1.300" width="1.700" height="1.400"/><rect x="1.600" y="1.300" width="1.700" height="1.400"/>
    <rect x="-3.300" y="4.100" width="1.700" height="1.400"/><rect x="-.85" y="4.100" width="1.700" height="1.400"/><rect x="1.600" y="4.100" width="1.700" height="1.400"/>
    <rect x="-3.300" y="6.900" width="1.700" height="1.400"/><rect x="-.85" y="6.900" width="1.700" height="1.400"/><rect x="1.600" y="6.900" width="1.700" height="1.400"/>
    <rect x="-3.300" y="9.700" width="1.700" height="1.400"/><rect x="-.85" y="9.700" width="1.700" height="1.400"/><rect x="1.600" y="9.700" width="1.700" height="1.400"/></g>
  </g>
  <line x1="509" y1="196.500" x2="409.500" y2="284" stroke="#1b9ce9" stroke-width="1.500"/>
</g>

<!-- ===== BATTERY ICON ===== -->
<g id="battery">
  <rect x="720.100" y="205.400" width="28.400" height="18.700" rx="2.200" fill="#fff" stroke="#111" stroke-width="2.100"/>
  <rect x="724.500" y="213.700" width="4.600" height="1.600" fill="#111"/>
  <rect x="739" y="213.900" width="6" height="1.600" fill="#111"/>
  <rect x="741.200" y="211.800" width="1.600" height="6.200" fill="#111"/>
  <line x1="716.600" y1="262.500" x2="700" y2="322" stroke="#1b9ce9" stroke-width="1.500"/>
</g>

<!-- ===== LABELS ===== -->
<g id="labels" class="lbl" opacity=".999">
  <text x="220" y="205.500" textLength="60" lengthAdjust="spacingAndGlyphs">QUEEN BED</text>
  <text x="58.500" y="225" textLength="65" lengthAdjust="spacingAndGlyphs">BLACK TANK</text>
  <text x="58.500" y="237" textLength="33" lengthAdjust="spacingAndGlyphs">FLUSH</text>
  <text x="60" y="271" textLength="58" lengthAdjust="spacingAndGlyphs">SPARE TIRE</text>
  <text x="223.500" y="337.700" textLength="41.200" lengthAdjust="spacingAndGlyphs">DOUBLE</text>
  <text x="224.200" y="349.400" textLength="57.600" lengthAdjust="spacingAndGlyphs">BUNK BEDS</text>
  <text x="348.100" y="403.500" textLength="44.700" lengthAdjust="spacingAndGlyphs">SHOWER</text>
  <text x="420" y="414" textLength="34" lengthAdjust="spacingAndGlyphs">REFER</text>
  <text x="434.700" y="234.400" textLength="33" lengthAdjust="spacingAndGlyphs">MICRO</text>
  <text x="508.300" y="194" textLength="66.500" lengthAdjust="spacingAndGlyphs">TV LOCATION</text>
  <text x="734.100" y="238" textLength="64.400" lengthAdjust="spacingAndGlyphs">2X GROUP 24</text>
  <text x="733.800" y="249.800" textLength="44.500" lengthAdjust="spacingAndGlyphs">BATTERY</text>
  <text x="733.800" y="261.200" textLength="25.500" lengthAdjust="spacingAndGlyphs">TRAY</text>
  <text x="298.500" y="464" textLength="55.500" lengthAdjust="spacingAndGlyphs">15’ AWNING</text>
  <text x="383.200" y="481" textLength="52" lengthAdjust="spacingAndGlyphs">HOT/COLD</text>
  <text x="383.500" y="492.700" textLength="71.500" lengthAdjust="spacingAndGlyphs" xml:space="preserve">EXT.  SHOWER</text>
  <text x="533.200" y="481" textLength="47.200" lengthAdjust="spacingAndGlyphs">LP QUICK</text>
  <text x="533.300" y="492.300" textLength="48" lengthAdjust="spacingAndGlyphs">CONNECT</text>
  <text x="593.200" y="465.300" textLength="46" lengthAdjust="spacingAndGlyphs">PULLOUT</text>
  <text x="593.200" y="477" textLength="59.300" lengthAdjust="spacingAndGlyphs">LP GRIDDLE</text>
  <text transform="translate(544.500,327.100) rotate(-90)" x="0" y="0" textLength="52.300" lengthAdjust="spacingAndGlyphs" font-size="10.800">U-DINETTE</text>
  <text transform="translate(123.100,414.800) rotate(-90)" x="0" y="0" textLength="28.400" lengthAdjust="spacingAndGlyphs">BUNK</text>
  <text transform="translate(135.200,414.700) rotate(-90)" x="0" y="0" textLength="44.400" lengthAdjust="spacingAndGlyphs">CUBBIES</text>
</g>
<circle cx="77" cy="416.200" r=".6" fill="#444"/>
<!-- SECTIONS-END -->
</svg>
</body>
</html>
